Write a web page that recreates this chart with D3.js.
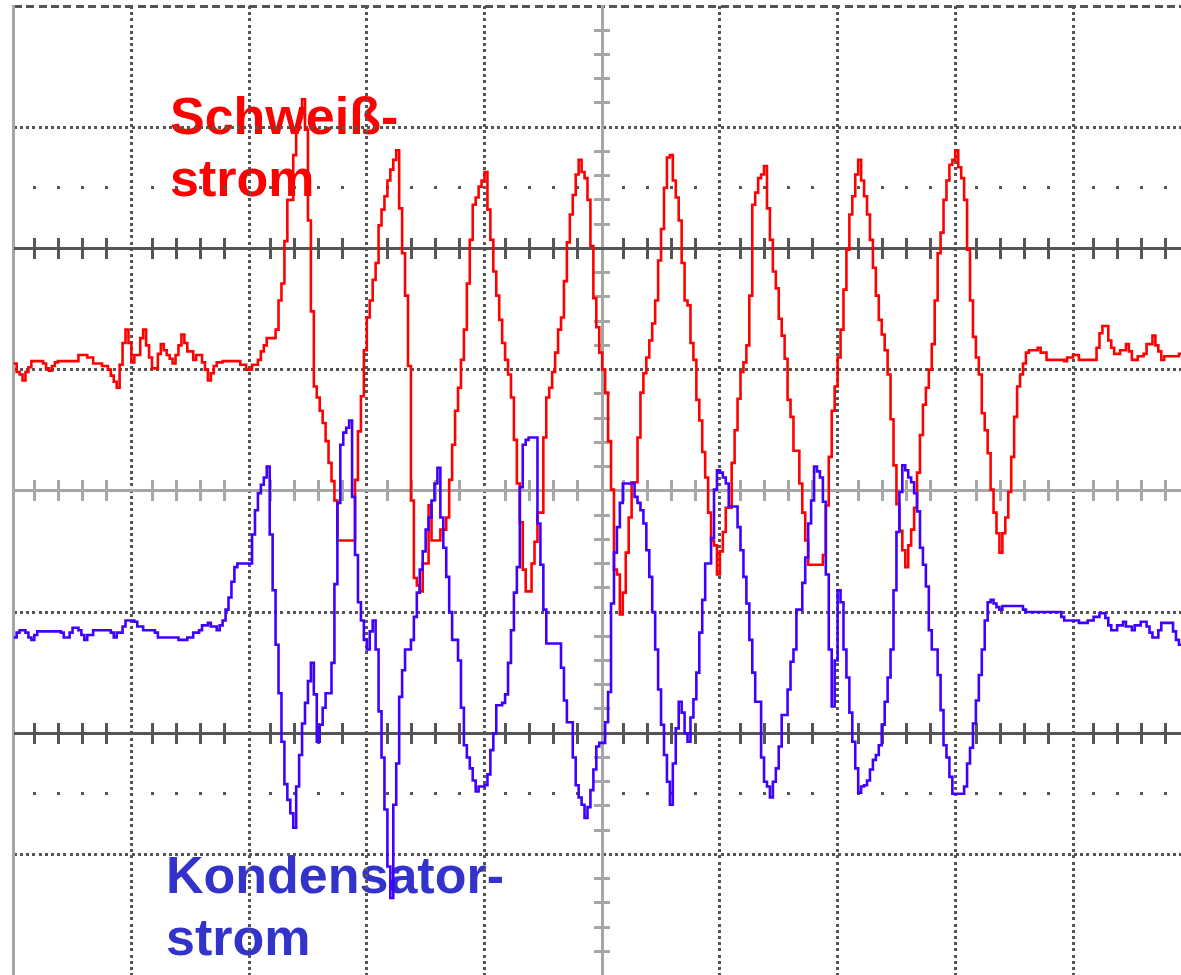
<!DOCTYPE html>
<html>
<head>
<meta charset="utf-8">
<script src="https://cdn.jsdelivr.net/npm/d3@7"></script>
<style>
  body { margin: 0; background: #fff; }
  svg { display: block; }
</style>
</head>
<body>
<div id="chart"></div>
<script>
// Scope screen: 10 x 8 divisions, 40 samples per division.
// Time = sample index, level = 1/100 division from screen centre.

// Schweißstrom (red)
let redT = [0,1,2,3,4,5,6,10,11,12,13,14,15,22,25,27,30,32,33,34,35,36,37,38,39,40,41,43,44,45,46,47,49,50,51,52,53,54,55,56,57,58,59,61,62,64,65,66,67,68,69,71,77,79,81,83,84,85,86,89,
  90,91,92,93,95,96,97,98,99,100,101,102,103,104,105,106,107,108,109,110,116,117,118,119,120,121,122,123,124,125,126,127,128,129,130,131,132,133,134,135,136,137,138,139,141,142,145,147,148,149,
  150,151,152,153,154,155,156,157,158,159,160,161,162,163,164,165,166,167,168,169,170,171,172,173,174,176,177,178,180,181,182,183,184,185,186,187,188,189,190,191,192,193,194,195,196,197,198,199,
  200,201,202,203,204,205,206,207,208,209,210,212,213,214,215,216,217,218,219,220,221,222,223,224,225,226,227,228,229,230,231,232,233,234,235,236,237,238,239,240,241,242,244,245,246,247,248,249,
  250,251,252,253,254,255,256,257,258,259,260,261,262,263,264,265,267,268,269,270,275,276,277,278,279,280,281,282,283,284,285,286,287,288,289,290,291,292,293,294,295,296,297,298,299,
  300,301,302,303,304,305,306,307,308,309,310,311,312,313,314,315,316,317,318,319,320,321,322,323,324,325,326,327,328,329,330,331,332,333,334,335,336,337,338,339,340,341,342,343,344,345,348,349,
  351,357,358,360,362,368,369,370,372,373,374,376,378,379,380,382,384,385,387,388,389,390,391,396,400]
let redV = [105,98,96,91,98,102,107,105,101,99,103,106,107,112,110,105,103,100,95,90,85,104,122,133,122,106,112,126,133,120,110,101,113,121,116,112,109,105,112,120,129,122,115,108,112,106,100,91,97,103,106,107,104,100,104,108,115,120,126,133,
  157,171,206,240,277,298,308,323,298,223,148,86,77,66,56,41,23,8,-8,-41,9,49,78,116,143,157,174,188,219,232,243,256,265,273,281,233,196,161,103,-8,-72,-78,-83,-60,-12,-41,-32,-22,9,38,
  66,85,108,133,171,207,236,242,251,256,263,232,207,181,161,141,122,108,96,77,42,6,-26,-65,-83,-60,-42,-18,44,77,85,98,114,133,143,173,205,228,244,261,273,263,258,240,202,159,135,114,
  100,81,41,1,-65,-69,-102,-84,-51,-22,7,44,81,97,110,124,138,157,190,216,250,275,277,256,242,223,188,157,153,122,108,75,58,32,11,-18,-41,-45,-69,-50,-34,-14,23,50,76,98,106,120,
  161,236,246,258,261,268,233,207,181,167,142,128,109,75,61,33,6,-18,-41,-61,-53,-12,28,66,86,110,133,166,199,228,243,261,273,256,243,228,207,184,161,141,129,116,96,59,21,
  -11,-33,-49,-63,-45,-32,-14,15,46,71,85,100,121,157,196,213,240,256,269,273,281,267,258,240,199,157,127,110,96,64,50,31,1,-18,-35,-51,-35,-22,-1,28,61,86,96,105,114,116,118,114,
  108,107,110,112,108,118,130,136,124,118,113,116,121,115,108,111,113,121,128,120,115,108,111,113,113]

// Kondensatorstrom (blue)
let blueT = [0,1,2,4,5,6,7,8,16,17,19,20,22,23,24,25,27,33,34,35,37,38,41,42,44,48,49,56,59,61,63,64,66,67,69,70,71,72,73,74,75,76,81,82,83,84,85,86,87,88,89,
  90,91,92,93,94,95,96,97,98,99,100,101,102,103,104,105,106,108,109,110,111,112,113,114,115,116,117,118,119,120,121,122,123,124,125,126,127,128,129,130,131,132,133,135,136,137,138,139,
  140,141,142,143,144,145,146,147,148,149,151,152,153,154,155,156,157,158,160,161,162,163,164,166,167,168,169,170,171,172,173,174,175,178,179,180,181,186,187,188,190,191,192,193,194,195,196,197,198,199,
  201,202,203,204,205,206,207,211,212,213,214,215,216,217,218,219,220,221,222,223,224,225,226,227,228,229,230,231,232,233,234,235,237,238,239,240,241,242,243,246,247,248,249,
  250,251,252,254,255,256,257,258,259,260,261,263,264,265,266,268,269,270,271,272,273,274,275,276,277,278,279,280,281,282,283,284,285,286,287,288,289,290,291,292,293,294,295,296,297,298,299,
  300,301,302,303,304,305,306,307,308,309,310,311,312,314,315,316,317,318,319,323,324,325,326,327,328,329,330,331,332,333,334,335,336,343,344,
  356,357,362,365,367,369,371,372,373,375,377,378,380,381,383,385,386,387,389,390,392,394,395,396,400]
let blueV = [-121,-117,-115,-117,-121,-123,-119,-116,-117,-121,-117,-113,-115,-119,-123,-119,-115,-117,-121,-117,-112,-107,-108,-112,-115,-117,-121,-123,-121,-117,-115,-111,-109,-112,-115,-111,-107,-98,-88,-75,-63,-60,-36,-16,-2,5,11,20,-36,-82,-127,
  -167,-207,-242,-255,-266,-278,-244,-218,-192,-175,-157,-142,-168,-207,-193,-179,-167,-142,-77,-10,38,48,52,58,-5,-53,-92,-107,-123,-131,-116,-107,-131,-182,-220,-263,-310,-336,-259,-225,-170,-148,-131,-123,-104,-84,-65,-50,
  -32,-22,-8,6,19,-22,-47,-71,-100,-123,-140,-179,-210,-220,-229,-239,-248,-244,-243,-234,-214,-200,-177,-175,-168,-142,-115,-84,-63,3,38,42,44,-27,-61,-98,-126,-146,-173,-191,-220,-243,-253,-259,-270,-261,-247,-230,-211,-208,
  -191,-166,-93,-51,-30,-10,6,-5,-10,-16,-27,-49,-71,-100,-131,-164,-193,-218,-240,-259,-225,-196,-174,-183,-200,-207,-187,-172,-150,-117,-90,-60,-39,1,17,15,11,6,-13,-30,-49,-71,-93,
  -123,-150,-174,-220,-240,-244,-253,-240,-229,-211,-185,-164,-141,-131,-98,-76,-55,-27,-8,20,16,11,-9,-69,-131,-178,-140,-82,-92,-131,-154,-183,-207,-229,-249,-244,-243,-239,-230,-222,-218,-210,-193,-174,-154,-131,-82,
  -34,-1,21,17,11,7,-2,-17,-47,-61,-79,-115,-131,-152,-181,-210,-220,-236,-250,-244,-225,-212,-192,-173,-152,-131,-107,-92,-90,-93,-96,-98,-95,-98,-100,
  -104,-107,-109,-107,-104,-101,-105,-111,-115,-111,-108,-112,-115,-111,-108,-112,-117,-121,-115,-109,-109,-116,-123,-127,-127]

let labelRed = ["Schweiß-", "strom"]
let labelBlue = ["Kondensator-", "strom"]

let width = 1181, height = 975
let dark = "#555555", light = "#a6a6a6"

let svg = d3.select("#chart").append("svg")
  .attr("width", width)
  .attr("height", height)

// screen divisions
let gx = d3.scaleLinear().domain([0, 10]).range([13.7, 1190.7])
let gy = d3.scaleLinear().domain([4, -4]).range([6, 975.6])
// trace scales
let x = d3.scaleLinear().domain([0, 400]).range(gx.range())
let y = d3.scaleLinear().domain([400, -400]).range(gy.range())

// labels sit under the graticule
function label(lines, x0, y0, color) {
  svg.append("g").selectAll("text").data(lines).enter().append("text")
    .attr("x", x0)
    .attr("y", (d, i) => y0 + i * 62)
    .attr("fill", color)
    .style("font-family", "'Liberation Sans', Arial, sans-serif")
    .style("font-weight", "bold")
    .style("font-size", "52px")
    .text(d => d)
}
label(labelRed, 170, 134, "#ff0000")
label(labelBlue, 166, 893, "#3333cc")

let tickFrac = [0.178, 0.382, 0.586, 0.79]
let minorX = []
d3.range(10).forEach(k => tickFrac.forEach(f => minorX.push(k + f)))

let grid = svg.append("g").attr("shape-rendering", "crispEdges")

// dotted division lines
grid.selectAll(".vdot").data([1, 2, 3, 4, 6, 7, 8, 9]).enter().append("line")
  .attr("x1", d => gx(d)).attr("x2", d => gx(d))
  .attr("y1", gy(4)).attr("y2", height)
  .attr("stroke", dark).attr("stroke-width", 3).attr("stroke-dasharray", "3,3.2")

grid.selectAll(".hdot").data([3, 1, -1, -3]).enter().append("line")
  .attr("x1", gx(0)).attr("x2", width)
  .attr("y1", d => gy(d)).attr("y2", d => gy(d))
  .attr("stroke", dark).attr("stroke-width", 3).attr("stroke-dasharray", "3,3.2")

// top border dashed
grid.append("line")
  .attr("x1", gx(0)).attr("x2", width)
  .attr("y1", gy(4)).attr("y2", gy(4))
  .attr("stroke", dark).attr("stroke-width", 3).attr("stroke-dasharray", "8,4.4")

// left border and centre axis
grid.selectAll(".vsolid").data([0, 5]).enter().append("line")
  .attr("x1", d => gx(d)).attr("x2", d => gx(d))
  .attr("y1", gy(4) - 1.5).attr("y2", height)
  .attr("stroke", light).attr("stroke-width", 3)

// centre axis ticks
grid.selectAll(".cticks").data(d3.range(-19, 20).filter(j => j % 5 != 0)).enter().append("line")
  .attr("x1", gx(5) - 8).attr("x2", gx(5) + 8)
  .attr("y1", d => gy(d / 5)).attr("y2", d => gy(d / 5))
  .attr("stroke", light).attr("stroke-width", 3)

// minor dot rows
;[2.5, -2.5].forEach(r => {
  grid.selectAll(null).data(minorX).enter().append("rect")
    .attr("x", d => gx(d) - 1.5).attr("y", gy(r) - 1.5)
    .attr("width", 3).attr("height", 3)
    .attr("fill", dark)
})

// solid horizontal lines with ticks
let solidRows = [{ v: 0, c: light }, { v: 2, c: dark }, { v: -2, c: dark }]
solidRows.forEach(row => {
  grid.append("line")
    .attr("x1", gx(0)).attr("x2", width)
    .attr("y1", gy(row.v)).attr("y2", gy(row.v))
    .attr("stroke", row.c).attr("stroke-width", 3)
  grid.selectAll(null).data(minorX).enter().append("line")
    .attr("x1", d => gx(d)).attr("x2", d => gx(d))
    .attr("y1", gy(row.v) - 10.5).attr("y2", gy(row.v) + 10.5)
    .attr("stroke", row.c).attr("stroke-width", 3)
})

// traces
let line = d3.line()
  .x(d => x(d[0]))
  .y(d => y(d[1]))
  .curve(d3.curveStepAfter)

svg.append("path")
  .datum(d3.zip(redT, redV))
  .attr("d", line)
  .attr("fill", "none")
  .attr("stroke", "#ff0000")
  .attr("stroke-width", 2.6)

svg.append("path")
  .datum(d3.zip(blueT, blueV))
  .attr("d", line)
  .attr("fill", "none")
  .attr("stroke", "#4000ff")
  .attr("stroke-width", 2.6)
</script>
</body>
</html>
